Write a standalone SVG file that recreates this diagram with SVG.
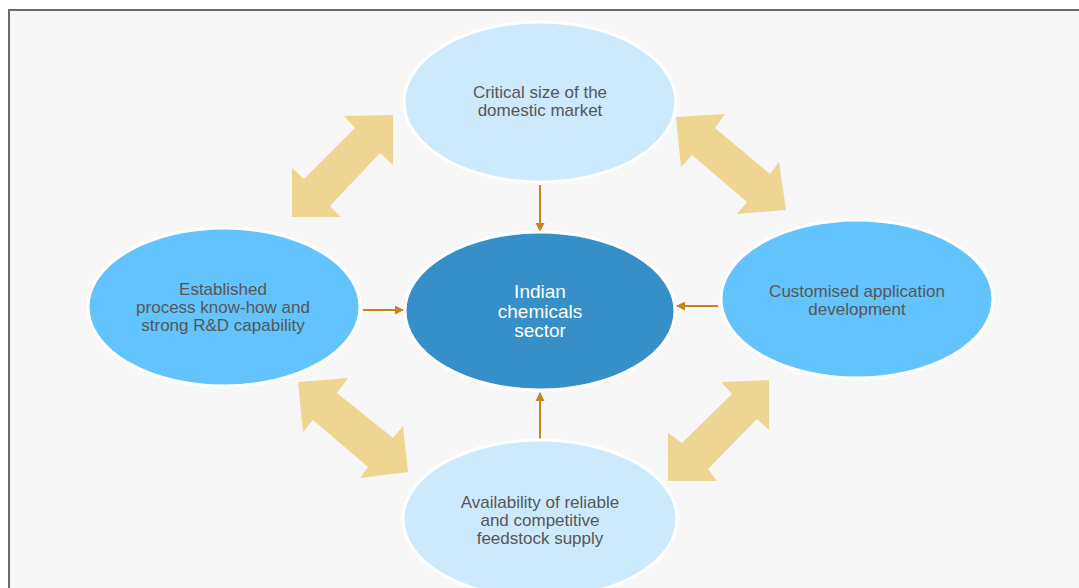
<svg xmlns="http://www.w3.org/2000/svg" width="1079" height="588" viewBox="0 0 1079 588">
  <style>
    .frame { fill: #f7f7f7; }
    .border { stroke: #6e6e60; stroke-width: 2; fill: none; }
    .big { fill: #eed592; }
    .node { stroke: #ffffff; stroke-width: 3; }
    .pale { fill: #cdeafd; }
    .sky { fill: #63c3fc; }
    .core { fill: #368fc7; }
    .lbl { font-family: "Liberation Sans", Arial, sans-serif; font-size: 17px; fill: #575757; text-anchor: middle; }
    .clbl { font-family: "Liberation Sans", Arial, sans-serif; font-size: 19px; fill: #ffffff; text-anchor: middle; }
    .conn { stroke: #c8841c; stroke-width: 2; fill: none; }
  </style>
  <defs>
    <marker id="ah" markerUnits="userSpaceOnUse" markerWidth="9" markerHeight="9" refX="8" refY="4.5" orient="auto">
      <path d="M0,0 L9,4.5 L0,9 z" fill="#c8841c"/>
    </marker>
  </defs>
  <rect x="0" y="0" width="1079" height="588" fill="#ffffff"/>
  <rect class="frame" x="9" y="10" width="1070" height="578"/>
  <path class="border" d="M9,588 L9,10 L1079,10"/>

  <g id="double-arrows">
    <polygon class="big" points="393,115 393,165 380,153 330,206 341,217 292,217 292,168 304,179 355,128 344,116"/>
    <polygon class="big" points="676,117 725,114 715,128 770,174 779,162 786,210 737,214 747,202 692,155 681,167"/>
    <polygon class="big" points="298,382 348,378 337,393 393,438 403,426 408,472 360,478 368,467 313,420 303,432"/>
    <polygon class="big" points="769,380 769,430 757,419 708,469 717,481 668,481 668,433 682,443 732,394 721,382"/>
  </g>

  <g id="connectors">
    <line class="conn" x1="540" y1="185" x2="540" y2="231" marker-end="url(#ah)"/>
    <line class="conn" x1="363" y1="310" x2="403" y2="310" marker-end="url(#ah)"/>
    <line class="conn" x1="718" y1="306" x2="677" y2="306" marker-end="url(#ah)"/>
    <line class="conn" x1="540" y1="440" x2="540" y2="393" marker-end="url(#ah)"/>
  </g>

  <g id="node-top">
    <ellipse class="node pale" cx="540" cy="102" rx="136" ry="80"/>
    <text class="lbl" x="540" y="98">Critical size of the</text>
    <text class="lbl" x="540" y="116">domestic market</text>
  </g>
  <g id="node-left">
    <ellipse class="node sky" cx="224" cy="307" rx="136" ry="79"/>
    <text class="lbl" x="223" y="295">Established</text>
    <text class="lbl" x="223" y="313">process know-how and</text>
    <text class="lbl" x="223" y="331">strong R&amp;D capability</text>
  </g>
  <g id="node-center">
    <ellipse class="node core" cx="540" cy="311" rx="135" ry="79"/>
    <text class="clbl" x="540" y="298">Indian</text>
    <text class="clbl" x="540" y="318">chemicals</text>
    <text class="clbl" x="540" y="337">sector</text>
  </g>
  <g id="node-right">
    <ellipse class="node sky" cx="857" cy="299" rx="136" ry="79"/>
    <text class="lbl" x="857" y="297">Customised application</text>
    <text class="lbl" x="857" y="315">development</text>
  </g>
  <g id="node-bottom">
    <ellipse class="node pale" cx="540" cy="519" rx="137" ry="79"/>
    <text class="lbl" x="540" y="508">Availability of reliable</text>
    <text class="lbl" x="540" y="526">and competitive</text>
    <text class="lbl" x="540" y="544">feedstock supply</text>
  </g>
</svg>
